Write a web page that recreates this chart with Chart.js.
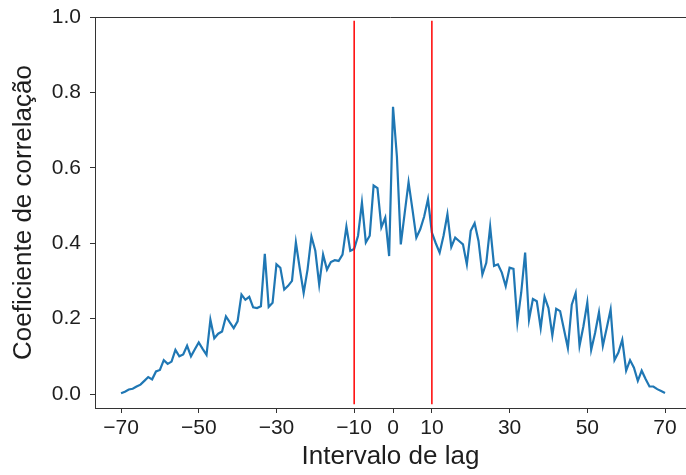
<!DOCTYPE html>
<html>
<head>
<meta charset="utf-8">
<script src="https://cdn.jsdelivr.net/npm/chart.js@4"></script>
<style>
  html, body { margin: 0; padding: 0; background: #fff; }
  canvas { display: block; }
</style>
</head>
<body>
<canvas id="corrChart" width="686" height="475"></canvas>
<script>
const lags = [
  -70, -69, -68, -67, -66, -65, -64, -63, -62, -61,
  -60, -59, -58, -57, -56, -55, -54, -53, -52, -51,
  -50, -49, -48, -47, -46, -45, -44, -43, -42, -41,
  -40, -39, -38, -37, -36, -35, -34, -33, -32, -31,
  -30, -29, -28, -27, -26, -25, -24, -23, -22, -21,
  -20, -19, -18, -17, -16, -15, -14, -13, -12, -11,
  -10, -9, -8, -7, -6, -5, -4, -3, -2, -1,
  0,
  1, 2, 3, 4, 5, 6, 7, 8, 9, 10,
  11, 12, 13, 14, 15, 16, 17, 18, 19, 20,
  21, 22, 23, 24, 25, 26, 27, 28, 29, 30,
  31, 32, 33, 34, 35, 36, 37, 38, 39, 40,
  41, 42, 43, 44, 45, 46, 47, 48, 49, 50,
  51, 52, 53, 54, 55, 56, 57, 58, 59, 60,
  61, 62, 63, 64, 65, 66, 67, 68, 69, 70
];

const corrValues = [
  0.002, 0.006, 0.012, 0.014, 0.020, 0.025, 0.035, 0.045, 0.039, 0.060,
  0.064, 0.090, 0.080, 0.086, 0.117, 0.100, 0.105, 0.128, 0.100, 0.119,
  0.137, 0.120, 0.104, 0.197, 0.148, 0.160, 0.166, 0.206, 0.190, 0.175,
  0.193, 0.264, 0.250, 0.258, 0.230, 0.228, 0.233, 0.372, 0.231, 0.242,
  0.344, 0.335, 0.277, 0.287, 0.300, 0.402, 0.333, 0.268, 0.330, 0.418,
  0.380, 0.290, 0.370, 0.330, 0.350, 0.355, 0.353, 0.370, 0.444, 0.380,
  0.385, 0.420, 0.508, 0.402, 0.420, 0.553, 0.546, 0.442, 0.468, 0.366,
  0.762,
  0.630, 0.397, 0.480, 0.562, 0.490, 0.415, 0.437, 0.470, 0.517, 0.428,
  0.400, 0.375, 0.420, 0.477, 0.390, 0.415, 0.406, 0.397, 0.344, 0.433,
  0.453, 0.406, 0.317, 0.348, 0.444, 0.340, 0.344, 0.322, 0.286, 0.335,
  0.332, 0.190, 0.270, 0.375, 0.197, 0.252, 0.246, 0.175, 0.258, 0.228,
  0.155, 0.226, 0.220, 0.171, 0.122, 0.237, 0.268, 0.128, 0.180, 0.243,
  0.117, 0.162, 0.217, 0.128, 0.175, 0.224, 0.090, 0.110, 0.144, 0.062,
  0.090, 0.070, 0.035, 0.062, 0.040, 0.020, 0.020, 0.013, 0.008, 0.003
];

// red markers at the lag window edges
const windowLags = [-10, 10];
const windowSpan = [-0.027, 0.99];

const xTicks = [-70, -50, -30, -10, 0, 10, 30, 50, 70];
const yTicks = [0.0, 0.2, 0.4, 0.6, 0.8, 1.0];

const axisColor = "#333333";
const textColor = "#1e1e1e";
const fontFamily = "'Liberation Sans', Arial, sans-serif";

const topBorder = {
  id: "topBorder",
  afterDraw(chart) {
    const { ctx, chartArea } = chart;
    ctx.save();
    ctx.strokeStyle = axisColor;
    ctx.lineWidth = 1;
    ctx.beginPath();
    ctx.moveTo(chartArea.left, chartArea.top + 0.5);
    ctx.lineTo(chartArea.right, chartArea.top + 0.5);
    ctx.stroke();
    ctx.restore();
  },
};

const datasets = [
  {
    label: "corr",
    data: lags.map((lag, i) => ({ x: lag, y: corrValues[i] })),
    borderColor: "#1f77b4",
    borderWidth: 2.2,
    pointRadius: 0,
    tension: 0,
    order: 2,
  },
];

windowLags.forEach((lag) => {
  datasets.push({
    label: "lag " + lag,
    data: windowSpan.map((y) => ({ x: lag, y: y })),
    borderColor: "#ff0000",
    borderWidth: 1.5,
    pointRadius: 0,
    order: 1,
  });
});

const ctx = document.getElementById("corrChart").getContext("2d");
const corrChart = new Chart(ctx, {
  type: "line",
  data: { datasets: datasets },
  options: {
    responsive: false,
    animation: false,
    layout: { padding: { top: 17, right: 0, bottom: 0, left: 0 } },
    plugins: {
      legend: { display: false },
      tooltip: { enabled: false },
    },
    scales: {
      x: {
        type: "linear",
        min: -76.7,
        max: 75.4,
        afterBuildTicks: (scale) => {
          scale.ticks = xTicks.map((v) => ({ value: v }));
        },
        afterFit: (scale) => {
          scale.height = 67;
          scale.paddingLeft = 0;
          scale.paddingRight = 0;
        },
        grid: {
          drawOnChartArea: false,
          drawTicks: true,
          tickLength: 5,
          color: axisColor,
        },
        border: { display: true, color: axisColor, width: 1 },
        ticks: {
          padding: 3,
          color: textColor,
          font: { family: fontFamily, size: 21 },
          callback: (v) => String(v).replace("-", "\u2212"),
        },
        title: {
          display: true,
          text: "Intervalo de lag",
          color: textColor,
          font: { family: fontFamily, size: 26 },
          padding: { top: 0, bottom: 3 },
        },
      },
      y: {
        type: "linear",
        min: -0.037,
        max: 1.0,
        afterBuildTicks: (scale) => {
          scale.ticks = yTicks.map((v) => ({ value: v }));
        },
        afterFit: (scale) => {
          scale.width = 95;
          scale.paddingTop = 0;
          scale.paddingBottom = 0;
        },
        grid: {
          drawOnChartArea: false,
          drawTicks: true,
          tickLength: 5,
          color: axisColor,
        },
        border: { display: true, color: axisColor, width: 1 },
        ticks: {
          padding: 9,
          color: textColor,
          font: { family: fontFamily, size: 21 },
          callback: (v) => v.toFixed(1),
        },
        title: {
          display: true,
          text: "Coeficiente de correlação",
          color: textColor,
          font: { family: fontFamily, size: 26 },
          padding: { top: 8, bottom: 0 },
        },
      },
    },
  },
  plugins: [topBorder],
});
</script>
</body>
</html>
